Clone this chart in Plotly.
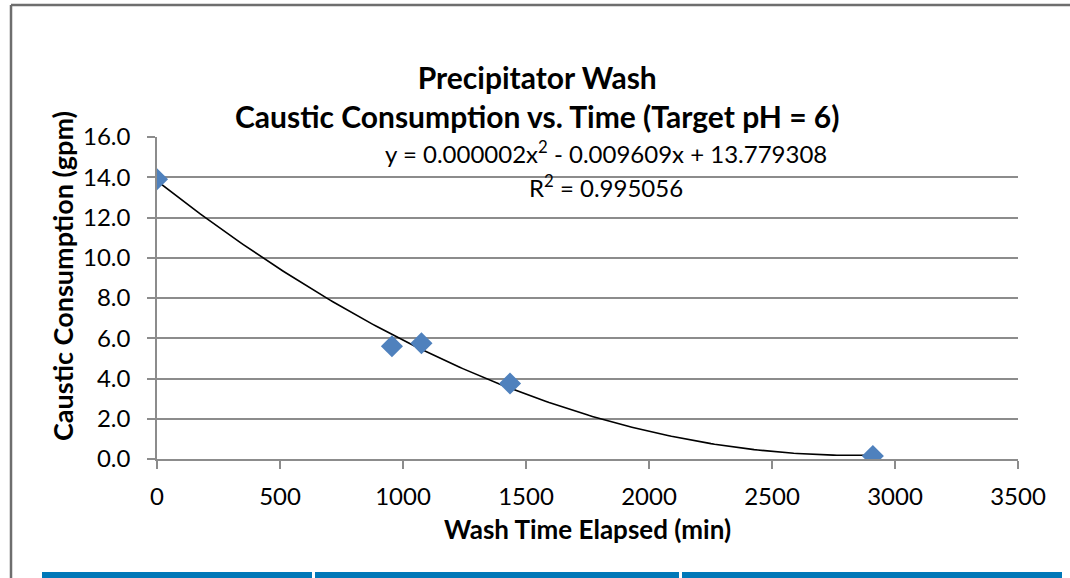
import numpy as np
import plotly.graph_objects as go

wash_time = [0, 955, 1075, 1435, 2910]
caustic_gpm = [13.9, 5.6, 5.75, 3.75, 0.15]
x_ticks = [0, 500, 1000, 1500, 2000, 2500, 3000, 3500]
y_ticks = [0, 2, 4, 6, 8, 10, 12, 14, 16]
title_lines = ["Precipitator Wash", "Caustic Consumption vs. Time (Target pH = 6)"]
equation_lines = ["y = 0.000002x<sup>2</sup> - 0.009609x + 13.779308", "R<sup>2</sup> = 0.995056"]
x_title = "Wash Time Elapsed (min)"
y_title = "Caustic Consumption (gpm)"

coef = np.polyfit(wash_time, caustic_gpm, 2)
xs = np.linspace(min(wash_time), max(wash_time), 200)
ys = np.polyval(coef, xs)

FONT = "Lato"
GRID = "#8c8c8c"
L, R, T, B = 157, 1018, 137, 459
W, H = 1070, 578


def px(x):
    return (x - L) / (R - L)


def py(y):
    return (B - y) / (B - T)


fig = go.Figure()
fig.add_trace(go.Scatter(x=xs, y=ys, mode="lines",
                         line=dict(color="black", width=1.6),
                         showlegend=False, hoverinfo="skip"))
fig.add_trace(go.Scatter(x=wash_time, y=caustic_gpm, mode="markers",
                         marker=dict(symbol="diamond", size=17, color="#4f81bd",
                                     line=dict(width=0)),
                         showlegend=False))

fig.update_layout(
    width=W, height=H,
    margin=dict(l=L, r=W - R, t=T, b=H - B),
    paper_bgcolor="white", plot_bgcolor="white",
    font=dict(family=FONT, color="black", size=24),
    xaxis=dict(range=[0, 3500], tickvals=x_ticks, ticktext=[str(v) for v in x_ticks],
               showgrid=False, zeroline=False, showline=True, linecolor=GRID, linewidth=1.5,
               ticks="outside", ticklen=8, tickcolor=GRID, tickwidth=1.5,
               tickfont=dict(size=24), ticklabelstandoff=7,
               title=dict(text=f"<b>{x_title}</b>", font=dict(size=26), standoff=12)),
    yaxis=dict(range=[0, 16], tickvals=y_ticks, ticktext=[f"{v:.1f}" for v in y_ticks],
               showgrid=True, gridcolor=GRID, gridwidth=1.5, zeroline=False,
               showline=True, linecolor=GRID, linewidth=1.5,
               ticks="outside", ticklen=8, tickcolor=GRID, tickwidth=1.5,
               tickfont=dict(size=24), ticklabelstandoff=12),
)

# y axis title
fig.add_annotation(xref="paper", yref="paper", x=px(62), y=py(276),
                   text=f"<b>{y_title}</b>", textangle=-90, showarrow=False,
                   font=dict(size=27, family=FONT), xanchor="center", yanchor="middle")

# chart title (two lines)
fig.add_annotation(xref="paper", yref="paper", x=px(537), y=py(96),
                   text="<br>".join(f"<b>{t}</b>" for t in title_lines), showarrow=False,
                   font=dict(size=30, family=FONT), xanchor="center", yanchor="middle",
                   align="center")

# trendline equation
for txt, yc in zip(equation_lines, [152, 186]):
    fig.add_annotation(xref="paper", yref="paper", x=px(606), y=py(yc),
                       text=txt, showarrow=False,
                       font=dict(size=24, family=FONT), xanchor="center", yanchor="middle")

# outer chart frame
fig.add_shape(type="line", xref="paper", yref="paper",
              x0=px(11), x1=px(1075), y0=py(5), y1=py(5),
              line=dict(color="#6e6e6e", width=2.5))
fig.add_shape(type="line", xref="paper", yref="paper",
              x0=px(11), x1=px(11), y0=py(5), y1=py(590),
              line=dict(color="#6e6e6e", width=2.5))
# blue strip below chart
for a, b in [(42, 312), (315, 679), (682, 1062)]:
    fig.add_shape(type="rect", xref="paper", yref="paper",
                  x0=px(a), x1=px(b), y0=py(572), y1=py(590),
                  fillcolor="#0078b8", line=dict(width=0))

fig.write_html("out.html", config={"displayModeBar": False},
               post_script="document.body.style.margin='0px';")
